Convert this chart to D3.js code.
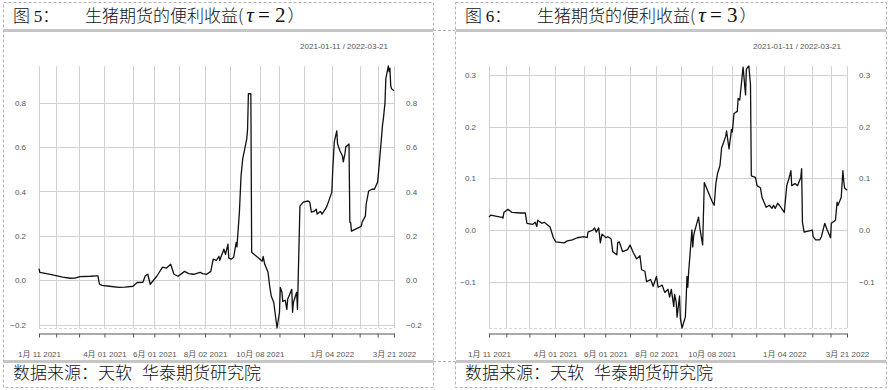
<!DOCTYPE html>
<html>
<head>
<meta charset="utf-8">
<script src="https://cdn.jsdelivr.net/npm/d3@7"></script>
<style>
  body { margin: 0; background: #fff; }
  svg { display: block; font-family: "Liberation Sans", Arial, sans-serif; }
</style>
</head>
<body>
<svg id="chart"></svg>
<script>
///////////////////////////////////////////
// Layout Setting
var svgWidth = 889,
    svgHeight = 390;

///////////////////////////////////////////
// Data
// convenience yield of hog futures, tau = 2
var tau2Series = [
  ["2021-01-11",0.052],["2021-01-12",0.036],["2021-01-25",0.027],["2021-01-29",0.023],
  ["2021-02-09",0.014],["2021-02-18",0.009],["2021-02-24",0.010],["2021-03-02",0.016],
  ["2021-03-15",0.018],["2021-03-22",0.020],["2021-03-24",0.020],["2021-03-26",-0.018],
  ["2021-03-29",-0.023],["2021-04-07",-0.027],["2021-04-19",-0.032],["2021-04-26",-0.031],
  ["2021-05-06",-0.027],["2021-05-11",-0.010],["2021-05-18",-0.009],["2021-05-21",0.020],
  ["2021-05-24",0.027],["2021-05-27",-0.018],["2021-05-31",0.000],["2021-06-04",0.018],
  ["2021-06-11",0.059],["2021-06-16",0.055],["2021-06-21",0.072],["2021-06-25",0.027],
  ["2021-06-30",0.018],["2021-07-08",0.040],["2021-07-13",0.030],["2021-07-19",0.027],
  ["2021-07-27",0.036],["2021-07-30",0.030],["2021-08-04",0.027],["2021-08-09",0.040],
  ["2021-08-12",0.095],["2021-08-16",0.090],["2021-08-19",0.108],["2021-08-20",0.090],
  ["2021-08-25",0.140],["2021-08-27",0.117],["2021-08-30",0.163],["2021-08-31",0.100],
  ["2021-09-03",0.095],["2021-09-06",0.104],["2021-09-09",0.170],["2021-09-10",0.150],
  ["2021-09-13",0.307],["2021-09-15",0.470],["2021-09-17",0.546],["2021-09-22",0.637],
  ["2021-09-23",0.680],["2021-09-24",0.840],["2021-09-27",0.840],["2021-09-28",0.126],
  ["2021-10-11",0.086],["2021-10-12",0.107],["2021-10-14",0.072],["2021-10-18",0.036],
  ["2021-10-20",-0.027],["2021-10-22",-0.072],["2021-10-25",-0.100],["2021-10-29",-0.215],
  ["2021-11-01",-0.144],["2021-11-02",-0.032],["2021-11-04",-0.054],["2021-11-05",-0.095],
  ["2021-11-08",-0.090],["2021-11-10",-0.131],["2021-11-11",-0.086],["2021-11-16",-0.041],
  ["2021-11-17",-0.144],["2021-11-18",-0.100],["2021-11-22",-0.054],["2021-11-23",-0.131],
  ["2021-11-26",0.334],["2021-11-30",0.352],["2021-12-06",0.357],["2021-12-08",0.352],
  ["2021-12-10",0.307],["2021-12-13",0.310],["2021-12-16",0.320],["2021-12-17",0.298],
  ["2021-12-21",0.310],["2021-12-23",0.298],["2021-12-27",0.320],["2021-12-29",0.334],
  ["2022-01-04",0.397],["2022-01-05",0.488],["2022-01-07",0.623],["2022-01-10",0.673],
  ["2022-01-11",0.614],["2022-01-14",0.582],["2022-01-17",0.560],["2022-01-18",0.533],
  ["2022-01-20",0.569],["2022-01-21",0.600],["2022-01-25",0.614],["2022-01-26",0.262],
  ["2022-01-27",0.260],["2022-01-28",0.221],["2022-02-07",0.239],["2022-02-09",0.244],
  ["2022-02-10",0.262],["2022-02-14",0.289],["2022-02-15",0.343],["2022-02-18",0.402],
  ["2022-02-22",0.410],["2022-02-25",0.410],["2022-03-01",0.442],["2022-03-03",0.524],
  ["2022-03-07",0.700],["2022-03-08",0.727],["2022-03-10",0.800],["2022-03-11",0.907],
  ["2022-03-14",0.965],["2022-03-15",0.940],["2022-03-16",0.955],["2022-03-17",0.876],
  ["2022-03-18",0.862],["2022-03-21",0.853]
];

// convenience yield of hog futures, tau = 3
var tau3Series = [
  ["2021-01-11",0.025],["2021-01-13",0.029],["2021-01-25",0.025],["2021-01-27",0.025],
  ["2021-01-28",0.023],["2021-01-29",0.034],["2021-02-03",0.040],["2021-02-08",0.034],
  ["2021-02-18",0.033],["2021-02-24",0.033],["2021-02-26",0.013],["2021-03-05",0.011],
  ["2021-03-08",0.015],["2021-03-10",0.007],["2021-03-11",0.019],["2021-03-16",0.013],
  ["2021-03-19",0.015],["2021-03-26",0.006],["2021-03-30",-0.015],["2021-04-02",-0.023],
  ["2021-04-12",-0.025],["2021-04-16",-0.021],["2021-04-22",-0.019],["2021-04-28",-0.015],
  ["2021-05-06",-0.013],["2021-05-10",-0.015],["2021-05-11",-0.004],["2021-05-17",0.000],
  ["2021-05-19",0.004],["2021-05-21",-0.004],["2021-05-24",0.004],["2021-05-26",-0.025],
  ["2021-05-28",-0.008],["2021-06-02",-0.015],["2021-06-04",-0.013],["2021-06-08",-0.017],
  ["2021-06-10",-0.042],["2021-06-15",-0.048],["2021-06-16",-0.025],["2021-06-18",-0.023],
  ["2021-06-22",-0.042],["2021-06-28",-0.038],["2021-07-01",-0.029],["2021-07-05",-0.044],
  ["2021-07-09",-0.056],["2021-07-13",-0.050],["2021-07-15",-0.077],["2021-07-19",-0.080],
  ["2021-07-21",-0.100],["2021-07-26",-0.096],["2021-07-29",-0.109],["2021-08-02",-0.090],
  ["2021-08-04",-0.111],["2021-08-09",-0.107],["2021-08-12",-0.121],["2021-08-16",-0.115],
  ["2021-08-18",-0.130],["2021-08-20",-0.115],["2021-08-23",-0.148],["2021-08-24",-0.125],
  ["2021-08-26",-0.140],["2021-08-27",-0.169],["2021-08-30",-0.128],["2021-08-31",-0.172],
  ["2021-09-02",-0.190],["2021-09-06",-0.169],["2021-09-07",-0.134],["2021-09-08",-0.090],
  ["2021-09-09",-0.111],["2021-09-10",-0.082],["2021-09-14",0.000],["2021-09-15",-0.033],
  ["2021-09-16",-0.013],["2021-09-17",-0.004],["2021-09-22",0.025],["2021-09-24",0.000],
  ["2021-09-27",-0.029],["2021-09-29",0.092],["2021-10-08",0.057],["2021-10-11",0.048],
  ["2021-10-13",0.090],["2021-10-15",0.109],["2021-10-18",0.125],["2021-10-20",0.159],
  ["2021-10-25",0.182],["2021-10-26",0.192],["2021-10-29",0.157],["2021-11-01",0.195],
  ["2021-11-02",0.190],["2021-11-04",0.226],["2021-11-08",0.230],["2021-11-09",0.255],
  ["2021-11-11",0.252],["2021-11-15",0.316],["2021-11-18",0.262],["2021-11-19",0.312],
  ["2021-11-22",0.318],["2021-11-24",0.282],["2021-11-25",0.105],["2021-11-30",0.102],
  ["2021-12-02",0.086],["2021-12-06",0.082],["2021-12-08",0.063],["2021-12-13",0.044],
  ["2021-12-17",0.048],["2021-12-20",0.042],["2021-12-22",0.048],["2021-12-24",0.042],
  ["2021-12-27",0.052],["2021-12-29",0.048],["2022-01-04",0.034],["2022-01-05",0.052],
  ["2022-01-07",0.086],["2022-01-10",0.102],["2022-01-12",0.115],["2022-01-13",0.086],
  ["2022-01-17",0.090],["2022-01-20",0.086],["2022-01-24",0.102],["2022-01-25",0.119],
  ["2022-01-26",0.015],["2022-01-28",-0.004],["2022-02-07",0.000],["2022-02-08",-0.013],
  ["2022-02-11",-0.019],["2022-02-16",-0.019],["2022-02-18",-0.013],["2022-02-22",0.013],
  ["2022-02-25",0.000],["2022-03-01",-0.015],["2022-03-02",0.013],["2022-03-07",0.019],
  ["2022-03-09",0.054],["2022-03-10",0.048],["2022-03-14",0.063],["2022-03-16",0.115],
  ["2022-03-17",0.096],["2022-03-18",0.082],["2022-03-21",0.077]
];

// x ticks (first trading day of each month) and the labelled ones
var monthTicks = ["2021-01-11","2021-02-01","2021-03-01","2021-04-01","2021-05-06","2021-06-01",
                  "2021-07-01","2021-08-02","2021-09-01","2021-10-08","2021-11-01","2021-12-01",
                  "2022-01-04","2022-02-07","2022-03-01","2022-03-21"];
var labelTicks = ["2021-01-11","2021-04-01","2021-06-01","2021-08-02","2021-10-08","2022-01-04","2022-03-21"];
var tau2Ticks = [-0.2, 0.0, 0.2, 0.4, 0.6, 0.8];
var tau3Ticks = [-0.1, 0.0, 0.1, 0.2, 0.3];
var rangeLabel = "2021-01-11 / 2022-03-21";
var sourceA = "数据来源：天软",
    sourceB = "华泰期货研究院";
var titleText = "生猪期货的便利收益(";

///////////////////////////////////////////
// Initialize Layout
var parseDate = d3.timeParse("%Y-%m-%d");
var fmtKey = d3.timeFormat("%Y-%m-%d");
var fmtLabel = d3.timeFormat("%-m月 %d %Y");
var fmtY = d3.format(".1f");
var cjk = "'Noto Sans CJK SC', sans-serif";

var svg = d3.select("#chart").attr("width", svgWidth).attr("height", svgHeight);

var panels = [
  {x0: 3, x1: 433, fig: "5", tau: "2", data: tau2Series, ticks: tau2Ticks,
   left: 39, right: 394, top: 66, bottom: 328},
  {x0: 455, x1: 886, fig: "6", tau: "3", data: tau3Series, ticks: tau3Ticks,
   left: 489, right: 847, top: 66, bottom: 328}
];

// table-like dashed frame
var frame = svg.append("g").attr("fill", "none").attr("stroke", "#b4b4b4")
  .attr("stroke-dasharray", "3,2").attr("stroke-width", 1);
panels.forEach(function(p) {
  frame.append("rect").attr("x", p.x0 + 0.5).attr("y", 2.5)
    .attr("width", p.x1 - p.x0).attr("height", 385);
});
[30, 361].forEach(function(y) {
  frame.append("line").attr("x1", 433).attr("x2", 455).attr("y1", y + 0.5).attr("y2", y + 0.5);
});

panels.forEach(function(p) {
  var g = svg.append("g");

  // title / source bands
  [30.5, 361.5].forEach(function(yy) {
    g.append("line").attr("x1", p.x0 + 1).attr("x2", p.x1).attr("y1", yy).attr("y2", yy)
      .attr("stroke", "#c6c6c6").attr("stroke-width", 3);
  });

  var t = g.append("text").attr("x", p.x0 + 10).attr("y", 22)
    .style("font-family", cjk).style("font-size", "17px").style("font-weight", 300).attr("fill", "#111");
  t.append("tspan").text("图 ");
  t.append("tspan").style("font-family", "'Liberation Serif', serif").text(p.fig);
  t.append("tspan").text("：");

  var t2 = g.append("text").attr("x", p.x0 + 82).attr("y", 22)
    .style("font-family", cjk).style("font-size", "17px").style("font-weight", 300).attr("fill", "#111");
  t2.append("tspan").text(titleText);
  t2.append("tspan").style("font-family", "'Liberation Serif', serif").style("font-style", "italic")
    .style("font-size", "21px").attr("dx", 3).text("τ");
  t2.append("tspan").style("font-family", "'Liberation Serif', serif")
    .style("font-size", "21px").attr("dx", 4).text("= " + p.tau);
  t2.append("tspan").attr("dx", 2).text("）");

  var src = g.append("text").attr("x", p.x0 + 10).attr("y", 379)
    .style("font-family", cjk).style("font-size", "17px").style("font-weight", 300).attr("fill", "#111");
  src.append("tspan").text(sourceA);
  src.append("tspan").attr("dx", 10).text(sourceB);

  // scales
  var series = p.data.map(function(d) { return {date: parseDate(d[0]), value: d[1]}; });
  var x = d3.scaleTime()
    .domain([parseDate(monthTicks[0]), parseDate(monthTicks[monthTicks.length - 1])])
    .range([p.left, p.right]);
  var y = d3.scaleLinear()
    .domain(d3.extent(series, function(d) { return d.value; }))
    .range([p.bottom, p.top]);

  // grid
  var grid = g.append("g").attr("stroke", "#d0d0d0").attr("stroke-width", 1);
  monthTicks.forEach(function(s) {
    var xx = Math.round(x(parseDate(s))) + 0.5;
    grid.append("line").attr("x1", xx).attr("x2", xx).attr("y1", p.top).attr("y2", p.bottom);
  });
  p.ticks.forEach(function(v) {
    var yy = Math.round(y(v)) + 0.5;
    grid.append("line").attr("x1", p.left).attr("x2", p.right).attr("y1", yy).attr("y2", yy);
  });
  g.append("line").attr("x1", p.left).attr("x2", p.right)
    .attr("y1", p.bottom + 0.5).attr("y2", p.bottom + 0.5)
    .attr("stroke", "#d8d8d8").attr("stroke-dasharray", "3,2");

  // date range label
  g.append("text").attr("x", p.right - 6).attr("y", 49).attr("text-anchor", "end")
    .style("font-size", "8px").attr("fill", "#555").text(rangeLabel);

  // axes
  var xAxis = d3.axisBottom(x)
    .tickValues(monthTicks.map(parseDate))
    .tickSize(4).tickSizeOuter(0).tickPadding(14)
    .tickFormat(function(d) {
      return labelTicks.indexOf(fmtKey(d)) >= 0 ? fmtLabel(d) : "";
    });
  var gx = g.append("g").attr("transform", "translate(0," + 333.5 + ")").call(xAxis);
  gx.select(".domain").attr("stroke", "#555");
  gx.selectAll(".tick line").attr("stroke", "#555");
  gx.selectAll("text").attr("fill", "#555").style("font-size", "8px")
    .style("font-family", "'Liberation Sans', 'Noto Sans CJK SC', sans-serif");

  var yl = g.append("g").attr("transform", "translate(" + p.left + ",0)")
    .call(d3.axisLeft(y).tickValues(p.ticks).tickSize(0).tickPadding(13).tickFormat(fmtY));
  var yr = g.append("g").attr("transform", "translate(" + p.right + ",0)")
    .call(d3.axisRight(y).tickValues(p.ticks).tickSize(0).tickPadding(12).tickFormat(fmtY));
  [yl, yr].forEach(function(a) {
    a.select(".domain").remove();
    a.selectAll("text").attr("fill", "#555").style("font-size", "8px");
  });

  // series line
  var line = d3.line()
    .x(function(d) { return x(d.date); })
    .y(function(d) { return y(d.value); });
  g.append("path").datum(series)
    .attr("fill", "none").attr("stroke", "#111").attr("stroke-width", 1.3)
    .attr("stroke-linejoin", "round")
    .attr("d", line);
});
</script>
</body>
</html>
